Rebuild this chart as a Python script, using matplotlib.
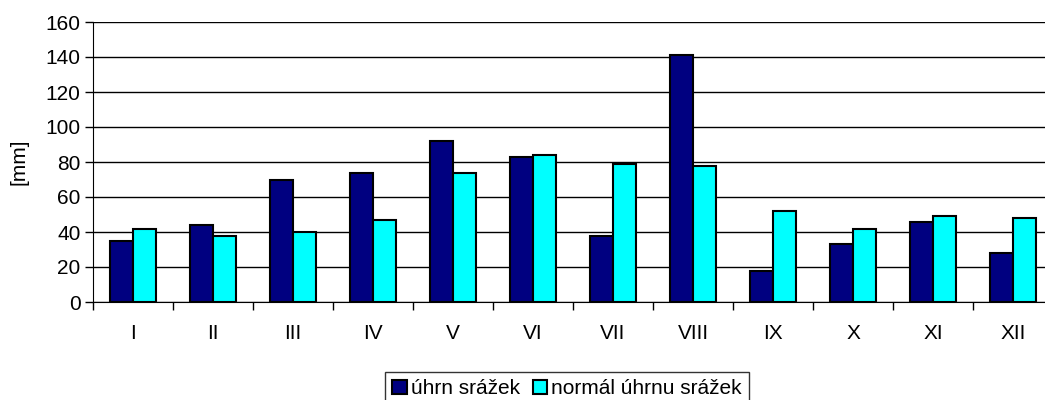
import numpy as np
import matplotlib.pyplot as plt

### Data ###
months = ["I", "II", "III", "IV", "V", "VI", "VII", "VIII", "IX", "X", "XI", "XII"]
uhrn = [35, 44, 70, 74, 92, 83, 38, 141, 18, 33, 46, 28]
normal = [42, 38, 40, 47, 74, 84, 79, 78, 52, 42, 49, 48]

plt.rcParams['font.family'] = ['Liberation Sans', 'DejaVu Sans']
fs = 15

fig = plt.figure(figsize=(10.45, 4.0), dpi=100)
# plot area runs past the right edge, as in the original (cropped)
ax = fig.add_axes([93 / 1045, 98 / 400, 960 / 1045, 280 / 400])

x = np.arange(len(months))
w = 0.2875
ax.bar(x - w / 2, uhrn, w, color="#000080", edgecolor="black", linewidth=1.5,
       label="úhrn srážek", zorder=3)
ax.bar(x + w / 2, normal, w, color="#00FFFF", edgecolor="black", linewidth=1.5,
       label="normál úhrnu srážek", zorder=3)

ax.set_xlim(-0.5, len(months) - 0.5)
ax.set_ylim(0, 160)
ax.set_yticks(range(0, 161, 20))
ax.yaxis.grid(True, color="black", linewidth=1, zorder=0)
ax.set_axisbelow(True)

# category ticks on boundaries, labels centered
ax.set_xticks(np.arange(-0.5, len(months) - 0.5, 1))
ax.set_xticklabels([])
ax.set_xticks(x, minor=True)
ax.set_xticklabels(months, minor=True)
ax.tick_params(axis="x", which="minor", length=0, pad=16, labelsize=fs)
ax.tick_params(axis="x", which="major", length=6, width=1, color="black")
ax.tick_params(axis="y", length=6, width=1, labelsize=fs, pad=3)

for s in ["top", "right"]:
    ax.spines[s].set_visible(False)
ax.spines["left"].set_color("black")
ax.spines["bottom"].set_color("black")

ax.set_ylabel("[mm]", fontsize=fs, labelpad=12)

leg = fig.legend(loc="upper center", bbox_to_anchor=(567 / 1045, 1 - 372 / 400),
                 ncol=2, frameon=True, fancybox=False, edgecolor="black",
                 fontsize=fs, handlelength=0.7, handleheight=0.7,
                 handletextpad=0.2, columnspacing=0.6, borderpad=0.35,
                 borderaxespad=0)
leg.get_frame().set_linewidth(1)

plt.savefig("out.png", dpi=100)
